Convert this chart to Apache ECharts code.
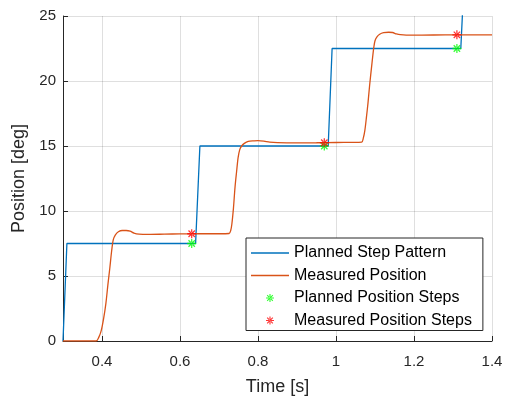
<!DOCTYPE html>
<html>
<head>
<meta charset="utf-8">
<script src="https://cdn.jsdelivr.net/npm/echarts@6/dist/echarts.min.js"></script>
<style>
  html, body { margin: 0; padding: 0; background: #ffffff; }
  #chart { width: 506px; height: 403px; }
</style>
</head>
<body>
<div id="chart"></div>
<script>
// Planned step pattern: [time (s), position (deg)]
const plannedPattern = [
  [0.300, 0], [0.310, 7.5], [0.640, 7.5], [0.651, 15],
  [0.980, 15], [0.990, 22.5], [1.320, 22.5], [1.332, 30]
];

// Measured position: [time (s), position (deg)]
const measuredPosition = [
  [0.300, 0], [0.385, 0], [0.392, 0.3], [0.398, 0.8], [0.404, 1.7], [0.410, 2.9],
  [0.415, 4.3], [0.420, 5.6], [0.425, 7.0], [0.429, 7.8], [0.434, 8.15], [0.442, 8.4],
  [0.452, 8.5], [0.462, 8.5], [0.472, 8.45], [0.482, 8.3], [0.495, 8.22], [0.520, 8.2],
  [0.560, 8.22], [0.600, 8.24], [0.650, 8.25], [0.700, 8.25], [0.726, 8.27],
  [0.730, 8.5], [0.733, 9.0], [0.737, 10.2], [0.741, 11.8], [0.745, 13.0], [0.749, 14.1],
  [0.753, 14.7], [0.758, 15.0], [0.765, 15.2], [0.775, 15.35], [0.790, 15.4], [0.800, 15.42],
  [0.815, 15.38], [0.830, 15.3], [0.850, 15.26], [0.900, 15.24], [0.950, 15.25],
  [1.000, 15.27], [1.040, 15.28], [1.066, 15.3],
  [1.070, 15.6], [1.074, 16.2], [1.078, 17.2], [1.082, 18.3], [1.086, 19.6], [1.092, 21.3],
  [1.097, 22.6], [1.100, 23.1], [1.105, 23.4], [1.112, 23.6], [1.122, 23.72], [1.135, 23.75],
  [1.145, 23.73], [1.155, 23.62], [1.165, 23.56], [1.180, 23.53], [1.220, 23.53],
  [1.280, 23.55], [1.350, 23.55], [1.400, 23.55]
];

// Step instants with the planned and measured positions at each
const plannedSteps = [[0.63, 7.5], [0.97, 15], [1.31, 22.5]];
const measuredSteps = [[0.63, 8.25], [0.97, 15.25], [1.31, 23.55]];

// Axis ticks
const xTicks = [0.4, 0.6, 0.8, 1.0, 1.2, 1.4];
const yTicks = [0, 5, 10, 15, 20, 25];

const seriesNames = [
  'Planned Step Pattern',
  'Measured Position',
  'Planned Position Steps',
  'Measured Position Steps'
];

const FONT = "'Liberation Sans', Arial, Helvetica, sans-serif";
const AXIS_COLOR = '#262626';
const GRID_COLOR = 'rgba(38,38,38,0.15)';

// Eight-armed asterisk marker
const ASTERISK = 'path://' +
  'M-5,-0.7 L5,-0.7 L5,0.7 L-5,0.7 Z ' +
  'M-0.7,-5 L0.7,-5 L0.7,5 L-0.7,5 Z ' +
  'M-4.03,-3.05 L3.05,4.03 L4.03,3.05 L-3.05,-4.03 Z ' +
  'M-4.03,3.05 L3.05,-4.03 L4.03,-3.05 L-3.05,4.03 Z';

// Plain line sample for the line series legend entries
const LINE_ICON = 'path://M0,0 L38,0 L38,1.3 L0,1.3 Z';

const chart = echarts.init(document.getElementById('chart'), null, { renderer: 'canvas' });

chart.setOption({
  animation: false,
  backgroundColor: '#ffffff',
  textStyle: { fontFamily: FONT },
  grid: { left: 63, right: 14, top: 16, bottom: 62, containLabel: false },
  xAxis: {
    type: 'value',
    min: 0.3,
    max: 1.4,
    name: 'Time [s]',
    nameLocation: 'middle',
    nameGap: 37,
    nameTextStyle: { fontSize: 18, color: AXIS_COLOR, fontFamily: FONT },
    axisLine: { show: true, onZero: false, lineStyle: { color: AXIS_COLOR, width: 1 } },
    axisTick: { show: true, inside: true, length: 5, customValues: xTicks, lineStyle: { color: AXIS_COLOR } },
    axisLabel: {
      customValues: xTicks,
      fontSize: 15, color: AXIS_COLOR, margin: 13, fontFamily: FONT,
      formatter: v => (Math.abs(v - Math.round(v)) < 1e-9 ? String(Math.round(v)) : v.toFixed(1))
    },
    splitLine: { show: true, lineStyle: { color: GRID_COLOR, width: 1 } }
  },
  yAxis: {
    type: 'value',
    min: 0,
    max: 25,
    interval: 5,
    name: 'Position [deg]',
    nameLocation: 'middle',
    nameGap: 32,
    nameTextStyle: { fontSize: 18, color: AXIS_COLOR, fontFamily: FONT },
    axisLine: { show: true, onZero: false, lineStyle: { color: AXIS_COLOR, width: 1 } },
    axisTick: { show: true, inside: true, length: 5, lineStyle: { color: AXIS_COLOR } },
    axisLabel: {
      fontSize: 15, color: AXIS_COLOR, margin: 7, fontFamily: FONT,
      formatter: v => (yTicks.indexOf(v) >= 0 ? String(v) : '')
    },
    splitLine: { show: true, lineStyle: { color: GRID_COLOR, width: 1 } }
  },
  legend: {
    orient: 'vertical',
    left: 246,
    top: 238,
    z: 10,
    backgroundColor: '#ffffff',
    borderColor: AXIS_COLOR,
    borderWidth: 1,
    borderRadius: 0,
    padding: [7, 11, 2, 5],
    itemWidth: 38,
    itemHeight: 8,
    itemGap: 6.5,
    selectedMode: false,
    textStyle: { fontSize: 16, lineHeight: 16, color: '#000000', fontFamily: FONT },
    data: [
      { name: seriesNames[0], icon: LINE_ICON },
      { name: seriesNames[1], icon: LINE_ICON },
      { name: seriesNames[2], icon: ASTERISK },
      { name: seriesNames[3], icon: ASTERISK }
    ]
  },
  series: [
    {
      name: seriesNames[0],
      type: 'line',
      data: plannedPattern,
      symbol: 'none',
      clip: true,
      z: 2,
      lineStyle: { color: '#0072BD', width: 1.3 },
      itemStyle: { color: '#0072BD' }
    },
    {
      name: seriesNames[1],
      type: 'line',
      data: measuredPosition,
      symbol: 'none',
      smooth: 0.3,
      clip: true,
      z: 3,
      lineStyle: { color: '#D95319', width: 1.3 },
      itemStyle: { color: '#D95319' }
    },
    {
      name: seriesNames[2],
      type: 'scatter',
      data: plannedSteps,
      symbol: ASTERISK,
      symbolSize: 9,
      z: 4,
      itemStyle: { color: '#00ff00' }
    },
    {
      name: seriesNames[3],
      type: 'scatter',
      data: measuredSteps,
      symbol: ASTERISK,
      symbolSize: 9,
      z: 4,
      itemStyle: { color: '#ff0000' }
    }
  ]
});
</script>
</body>
</html>
